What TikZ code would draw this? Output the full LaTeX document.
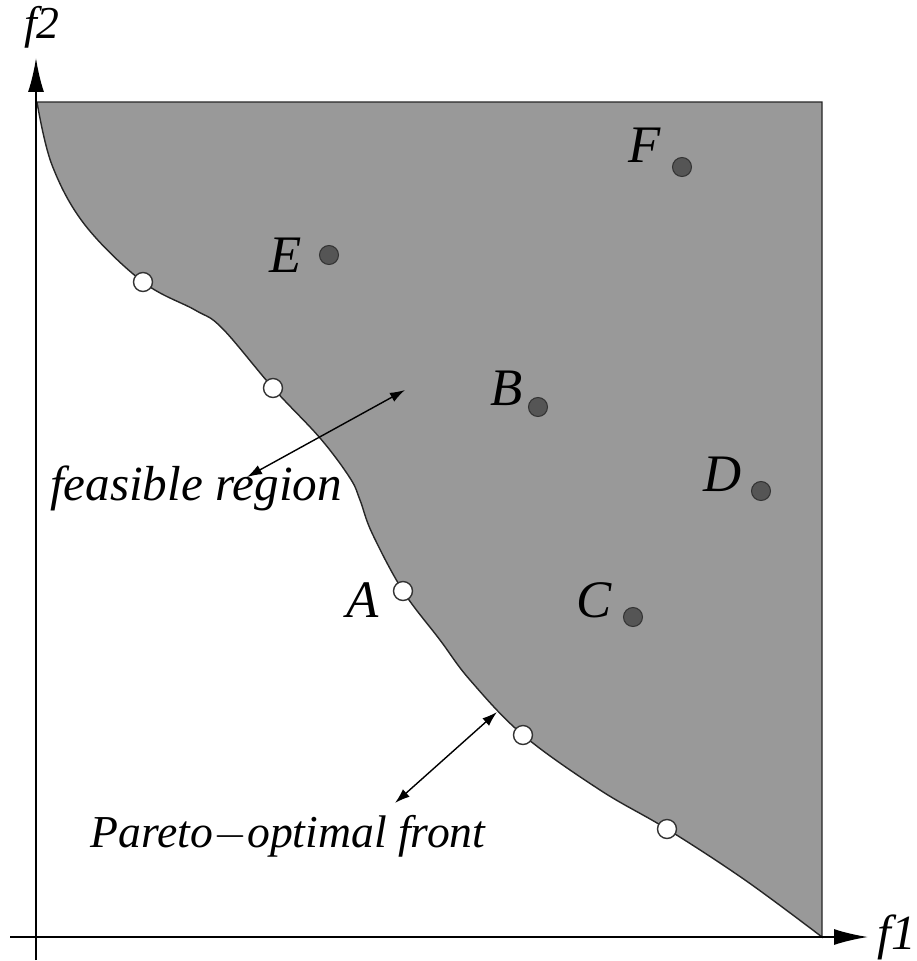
\documentclass[tikz,border=0pt]{standalone}
\usepackage{fontspec}
\setmainfont{Liberation Serif}
\usetikzlibrary{positioning, arrows.meta}
\definecolor{regionGray}{HTML}{999999}
\definecolor{dotGray}{HTML}{555555}

\begin{document}
\begin{tikzpicture}[x=0.02cm, y=-0.02cm,
  axis/.style={line width=1.1pt, -{Latex[length=0.68cm, width=0.32cm]}},
  dbl/.style={line width=0.8pt, {Latex[length=0.3cm, width=0.2cm]}-{Latex[length=0.3cm, width=0.2cm]}},
  fpt/.style={circle, draw=black!80, fill=dotGray, line width=0.6pt, minimum size=0.38cm, inner sep=0pt},
  opt/.style={circle, draw=black!80, fill=white, line width=0.8pt, minimum size=0.38cm, inner sep=0pt},
  lbl/.style={font=\fontsize{30}{34}\selectfont\itshape, inner sep=1pt},
  txt/.style={font=\fontsize{28}{32}\selectfont\itshape}
]
\useasboundingbox (0,0) rectangle (917,961);

% feasible region
\filldraw[fill=regionGray, draw=black!85, line width=0.8pt]
  plot[smooth, tension=0.6] coordinates {(37,102) (52,165) (85,225) (143,282) (195,310) (222,328) (273,388) (320,438) (350,478) (360,500) (372,533) (403,591) (440,640) (470,680) (523,735) (600,790) (667,829) (745,880) (822,937)}
  -- (822,102) -- cycle;

% axes
\coordinate (o1) at (10,937);
\coordinate (xe) at (868,937);
\coordinate (o2) at (36,960);
\coordinate (ye) at (36,58);
\draw[axis] (o1) -- (xe);
\draw[axis] (o2) -- (ye);
\node[txt, anchor=base west, inner sep=0pt] (f1) at (877,949) {f1};
\node[txt, font=\fontsize{26}{30}\selectfont\itshape, anchor=base, inner sep=0pt] (f2) at (42,38) {f2};

% solutions
\node[fpt] (E) at (329,255) {};
\node[fpt] (F) at (682,167) {};
\node[fpt] (B) at (538,407) {};
\node[fpt] (D) at (761,491) {};
\node[fpt] (C) at (633,617) {};
\node[lbl, left=0.3cm of E] (lE) {E};
\node[lbl, above left=-0.1cm and 0.25cm of F] (lF) {F};
\node[lbl, above left=-0.15cm and 0.12cm of B] (lB) {B};
\node[lbl, above left=-0.2cm and 0.2cm of D] (lD) {D};
\node[lbl, above left=-0.2cm and 0.25cm of C] (lC) {C};

% pareto-optimal points
\node[opt] (p1) at (143,282) {};
\node[opt] (p2) at (273,388) {};
\node[opt] (A) at (403,591) {};
\node[opt] (p4) at (523,735) {};
\node[opt] (p5) at (667,829) {};
\node[lbl, below left=-0.35cm and 0.3cm of A] (lA) {A};

% annotations
\node[txt] (feas) at (196,488) {feasible region};
\node[txt, font=\fontsize{26}{30}\selectfont\itshape] (pof) at (288,836) {Pareto$-$optimal front};
\coordinate (fa) at (247,477);
\coordinate (fb) at (405,390);
\coordinate (pa) at (395,803);
\coordinate (pb) at (497,712);
\draw[dbl] (fa) -- (fb);
\draw[dbl] (pa) -- (pb);
\end{tikzpicture}
\end{document}
